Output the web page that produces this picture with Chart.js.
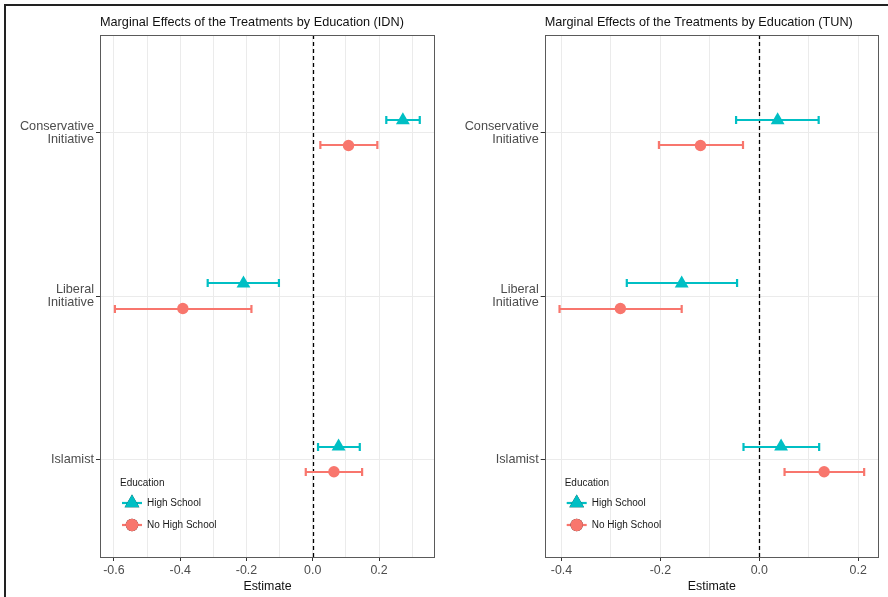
<!DOCTYPE html>
<html>
<head>
<meta charset="utf-8">
<script src="https://cdn.jsdelivr.net/npm/chart.js@4.4.1/dist/chart.umd.min.js"></script>
<style>
    body { margin: 0; background: #fff; }
    #wrap { position: relative; width: 888px; height: 597px; overflow: hidden; }
    #frame { position: absolute; left: 4px; top: 4px; width: 884px; height: 593px;
             border-top: 2px solid #222; border-left: 2px solid #222; box-sizing: border-box; }
    canvas { position: absolute; top: 0; }
</style>
</head>
<body>
<div id="wrap">
    <canvas id="idnChart" width="444" height="597" style="left:0"></canvas>
    <canvas id="tunChart" width="444" height="597" style="left:444px"></canvas>
    <div id="frame"></div>
</div>
<script>
const categories = ['Conservative Initiative', 'Liberal Initiative', 'Islamist'];
const groups = ['High School', 'No High School'];

// Indonesia
const idnHighEst = [0.272, -0.209, 0.078];
const idnHighLow = [0.222, -0.317, 0.016];
const idnHighHigh = [0.323, -0.102, 0.142];
const idnNoEst = [0.108, -0.392, 0.064];
const idnNoLow = [0.023, -0.597, -0.021];
const idnNoHigh = [0.195, -0.185, 0.149];

// Tunisia
const tunHighEst = [0.037, -0.157, 0.044];
const tunHighLow = [-0.047, -0.268, -0.032];
const tunHighHigh = [0.120, -0.045, 0.121];
const tunNoEst = [-0.119, -0.281, 0.131];
const tunNoLow = [-0.203, -0.404, 0.051];
const tunNoHigh = [-0.033, -0.157, 0.212];

const idnGrid = [-0.6, -0.5, -0.4, -0.3, -0.2, -0.1, 0, 0.1, 0.2, 0.3];
const idnTicks = [-0.6, -0.4, -0.2, 0, 0.2];
const tunGrid = [-0.4, -0.3, -0.2, -0.1, 0, 0.1, 0.2];
const tunTicks = [-0.4, -0.2, 0, 0.2];

const TEAL = '#00BFC4';
const SALMON = '#F8766D';
const FONT = '"Liberation Sans", Arial, sans-serif';
const DODGE = 0.077;

function isLabelled(list, v) {
    return list.some(t => Math.abs(t - v) < 1e-9);
}

const errorBarPlugin = {
    id: 'errorBars',
    beforeDatasetsDraw(chart) {
        const ctx = chart.ctx;
        const x = chart.scales.x, y = chart.scales.y;
        const area = chart.chartArea;
        // dashed line at zero
        ctx.save();
        ctx.strokeStyle = '#000';
        ctx.lineWidth = 1.3;
        ctx.setLineDash([4, 3]);
        const x0 = Math.round(x.getPixelForValue(0)) + 0.5;
        ctx.beginPath();
        ctx.moveTo(x0, area.top);
        ctx.lineTo(x0, area.bottom);
        ctx.stroke();
        ctx.setLineDash([]);
        // error bars
        chart.data.datasets.forEach(ds => {
            ctx.strokeStyle = ds.borderColor;
            ctx.lineWidth = 2.2;
            ds.data.forEach(p => {
                const py = Math.round(y.getPixelForValue(p.y));
                const xl = x.getPixelForValue(p.low);
                const xh = x.getPixelForValue(p.high);
                ctx.beginPath();
                ctx.moveTo(xl, py); ctx.lineTo(xh, py);
                ctx.moveTo(xl, py - 4); ctx.lineTo(xl, py + 4);
                ctx.moveTo(xh, py - 4); ctx.lineTo(xh, py + 4);
                ctx.stroke();
            });
        });
        ctx.restore();
    },
    afterDraw(chart) {
        const ctx = chart.ctx;
        const area = chart.chartArea;
        ctx.save();
        // panel border
        ctx.strokeStyle = '#5a5a5a';
        ctx.lineWidth = 1;
        ctx.strokeRect(Math.round(area.left) + 0.5, Math.round(area.top) + 0.5,
            Math.round(area.right - area.left) - 1, Math.round(area.bottom - area.top));
        // title
        ctx.fillStyle = '#111';
        ctx.font = '12.7px ' + FONT;
        ctx.textAlign = 'left';
        ctx.textBaseline = 'middle';
        ctx.fillText(chart.options.plugins.panelTitle, area.left, 22);
        // legend
        const lx = area.left + 20, ly = area.bottom - 75;
        ctx.fillStyle = '#1a1a1a';
        ctx.font = '10px ' + FONT;
        ctx.fillText('Education', lx, ly + 1);
        chart.data.datasets.forEach((ds, i) => {
            const cy = ly + 21 + i * 22;
            const cx = lx + 12;
            ctx.strokeStyle = ds.borderColor;
            ctx.lineWidth = 2.2;
            ctx.beginPath();
            ctx.moveTo(cx - 10, cy); ctx.lineTo(cx + 10, cy);
            ctx.stroke();
            Chart.helpers.drawPoint(ctx, {
                pointStyle: ds.pointStyle, radius: ds.pointRadius + 0.5, borderWidth: 0
            }, cx, cy);
            ctx.fillStyle = ds.backgroundColor;
            ctx.fill();
            ctx.fillStyle = '#1a1a1a';
            ctx.font = '10px ' + FONT;
            ctx.fillText(ds.label, lx + 27, cy);
        });
        ctx.restore();
    }
};

function buildSeries(est, low, high, offset) {
    return est.map((v, i) => ({ x: v, y: i + 1 + offset, low: low[i], high: high[i] }));
}

function makeChart(id, title, high, no, grid, ticks, xmin, xmax, yWidth) {
    const ctx = document.getElementById(id).getContext('2d');
    return new Chart(ctx, {
        type: 'scatter',
        data: {
            datasets: [
                {
                    label: groups[0],
                    data: buildSeries(high[0], high[1], high[2], -DODGE),
                    pointStyle: 'triangle',
                    pointRadius: 8,
                    backgroundColor: TEAL,
                    borderColor: TEAL,
                    borderWidth: 0
                },
                {
                    label: groups[1],
                    data: buildSeries(no[0], no[1], no[2], DODGE),
                    pointStyle: 'circle',
                    pointRadius: 5.7,
                    backgroundColor: SALMON,
                    borderColor: SALMON,
                    borderWidth: 0
                }
            ]
        },
        options: {
            responsive: false,
            animation: false,
            layout: { padding: { top: 35, right: 9, left: 0, bottom: 0 } },
            plugins: {
                legend: { display: false },
                tooltip: { enabled: false },
                panelTitle: title
            },
            scales: {
                x: {
                    type: 'linear',
                    min: xmin,
                    max: xmax,
                    afterBuildTicks: scale => { scale.ticks = grid.map(v => ({ value: v })); },
                    afterFit: scale => { scale.height = 40; },
                    border: { display: false },
                    grid: {
                        color: '#ebebeb',
                        lineWidth: 1,
                        tickLength: 4,
                        tickColor: c => (c.tick && isLabelled(ticks, c.tick.value)) ? '#333' : 'rgba(0,0,0,0)'
                    },
                    ticks: {
                        autoSkip: false,
                        maxRotation: 0,
                        padding: 2,
                        color: '#4d4d4d',
                        font: { family: FONT, size: 12.4 },
                        callback: v => isLabelled(ticks, v) ? v.toFixed(1) : ''
                    },
                    title: {
                        display: true,
                        text: 'Estimate',
                        color: '#111',
                        padding: { top: 0, bottom: 3 },
                        font: { family: FONT, size: 12.4 }
                    }
                },
                y: {
                    type: 'linear',
                    reverse: true,
                    min: 0.4,
                    max: categories.length + 0.6,
                    afterBuildTicks: scale => { scale.ticks = categories.map((c, i) => ({ value: i + 1 })); },
                    afterFit: scale => { scale.width = yWidth; },
                    border: { display: false },
                    grid: {
                        color: '#ebebeb',
                        lineWidth: 1,
                        tickLength: 4,
                        tickColor: '#333'
                    },
                    ticks: {
                        padding: 2,
                        color: '#4d4d4d',
                        font: { family: FONT, size: 12.7, lineHeight: 1.05 },
                        callback: v => categories[Math.round(v) - 1].split(' ')
                    }
                }
            }
        },
        plugins: [errorBarPlugin]
    });
}

makeChart('idnChart', 'Marginal Effects of the Treatments by Education (IDN)',
    [idnHighEst, idnHighLow, idnHighHigh], [idnNoEst, idnNoLow, idnNoHigh],
    idnGrid, idnTicks, -0.642, 0.369, 100);
makeChart('tunChart', 'Marginal Effects of the Treatments by Education (TUN)',
    [tunHighEst, tunHighLow, tunHighHigh], [tunNoEst, tunNoLow, tunNoHigh],
    tunGrid, tunTicks, -0.434, 0.242, 100.7);
</script>
</body>
</html>
